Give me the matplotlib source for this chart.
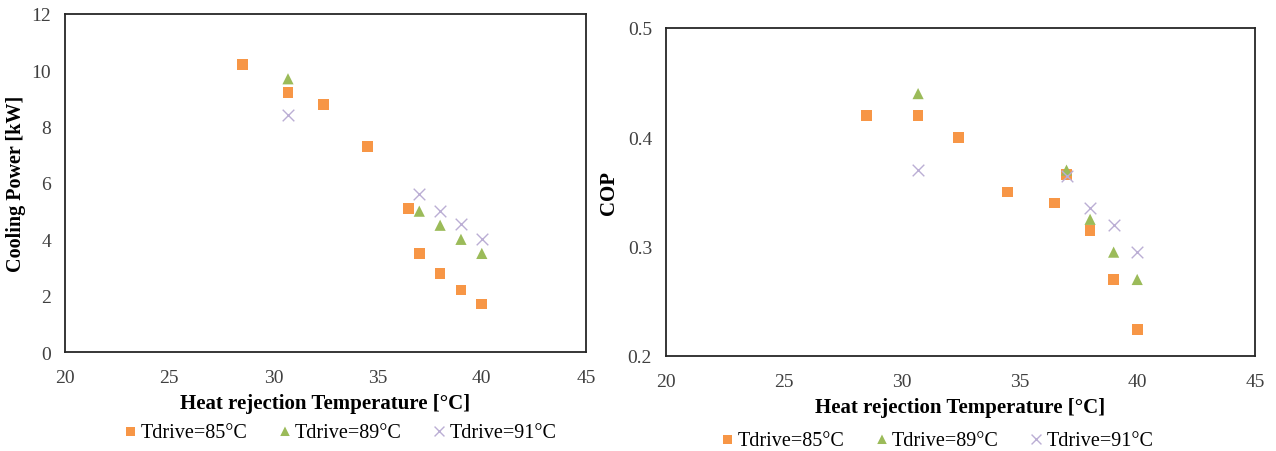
import matplotlib
matplotlib.use("Agg")
import matplotlib.pyplot as plt

plt.rcParams['font.family'] = ['Liberation Serif', 'DejaVu Serif']

# heat rejection temperature [C]
t85 = [28.5, 30.7, 32.4, 34.5, 36.5, 37.0, 38.0, 39.0, 40.0]
t89 = [30.7, 37.0, 38.0, 39.0, 40.0]
t91 = [30.7, 37.0, 38.0, 39.0, 40.0]

# cooling power [kW]
q85 = [10.2, 9.2, 8.8, 7.3, 5.1, 3.5, 2.8, 2.2, 1.7]
q89 = [9.7, 5.0, 4.5, 4.0, 3.5]
q91 = [8.4, 5.6, 5.0, 4.55, 4.0]

# COP
cop85 = [0.42, 0.42, 0.40, 0.35, 0.34, 0.366, 0.315, 0.27, 0.224]
cop89 = [0.44, 0.37, 0.325, 0.295, 0.27]
cop91 = [0.37, 0.365, 0.335, 0.32, 0.295]

labels = ["Tdrive=85\u00b0C", "Tdrive=89\u00b0C", "Tdrive=91\u00b0C"]
c_orange = "#F79646"
c_green = "#9BBB59"
c_purple = "#BBAED4"

fig = plt.figure(figsize=(12.76, 4.52), dpi=100)
ax1 = fig.add_axes([65/1276, 1 - 353/452, 521/1276, 338/452])
ax2 = fig.add_axes([666/1276, 1 - 357/452, 589/1276, 328/452])


def draw(ax, y85, y89, y91):
    ax.scatter(t85, y85, marker='s', s=60, color=c_orange, edgecolors='none', label=labels[0])
    ax.scatter(t89, y89, marker='^', s=65, color=c_green, edgecolors='none', label=labels[1])
    ax.scatter(t91, y91, marker='x', s=70, color=c_purple, linewidths=1.0, label=labels[2])
    ax.set_xlim(20, 45)
    ax.set_xticks([20, 25, 30, 35, 40, 45])
    ax.tick_params(length=0, labelsize=14, labelcolor='#404040')
    ax.tick_params(axis='x', pad=12)
    ax.tick_params(axis='y', pad=10)
    for sp in ax.spines.values():
        sp.set_linewidth(1.3)
        sp.set_color('#262626')
    ax.set_xlabel("Heat rejection Temperature [\u00b0C]", fontsize=15, fontweight='bold', labelpad=5)


def legend(ax, cx, cy):
    ax.legend(loc='center', bbox_to_anchor=(cx/1276, 1 - cy/452), bbox_transform=fig.transFigure,
              ncol=3, frameon=False, fontsize=14.5, handlelength=0.7, handletextpad=0.15,
              columnspacing=1.5, markerscale=0.85, borderpad=0)


draw(ax1, q85, q89, q91)
ax1.set_ylim(0, 12)
ax1.set_yticks([0, 2, 4, 6, 8, 10, 12])
ax1.set_ylabel("Cooling Power [kW]", fontsize=14.5, fontweight='bold', labelpad=4)
legend(ax1, 340, 433)

draw(ax2, cop85, cop89, cop91)
ax2.set_ylim(0.2, 0.5)
ax2.set_yticks([0.2, 0.3, 0.4, 0.5])
ax2.set_yticklabels(["0.2", "0.3", "0.4", "0.5"])
ax2.set_ylabel("COP", fontsize=15, fontweight='bold', labelpad=6)
legend(ax2, 937, 441)

fig.savefig("out.png", dpi=100)
